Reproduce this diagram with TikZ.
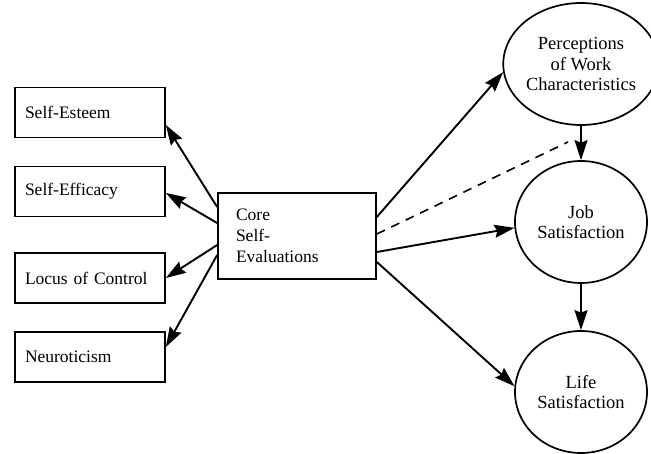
\documentclass[tikz,border=0pt]{standalone}
\usepackage{fontspec}
\setmainfont{Liberation Serif}
\usetikzlibrary{arrows.meta,shapes.geometric,calc}
\begin{document}
\begin{tikzpicture}[x=1pt,y=-1pt,
  every node/.style={font=\fontsize{17.5}{21}\selectfont},
  leftbox/.style={draw,line width=1.7pt,minimum width=150pt,minimum height=50pt,
    text width=130pt,align=left,inner xsep=10pt,inner ysep=0pt},
  corebox/.style={draw,line width=1.7pt,minimum width=158pt,minimum height=86pt,
    text width=122pt,align=left,inner xsep=18pt,inner ysep=0pt},
  outcome/.style={draw,ellipse,line width=1.7pt,minimum width=132pt,minimum height=122pt,
    inner sep=0pt,align=center,font=\fontsize{18.5}{20.5}\selectfont},
  link/.style={line width=1.9pt,-{Stealth[length=20pt,width=13pt,inset=2.5pt]}},
  modlink/.style={line width=1.6pt,dash pattern=on 9pt off 7pt}
]
\useasboundingbox (0,0) rectangle (651,454);
\node[leftbox] (se) at (90,112.5) {Self-Esteem};
\node[leftbox] (sf) at (90,191.5) {Self-Efficacy};
\node[leftbox] (lc) at (90,278) {Locus of Control};
\node[leftbox] (ne) at (90,357) {Neuroticism};
\node[corebox] (core) at (297,236) {Core\\Self-\\Evaluations};
\node[outcome] (perc) at (581,64) {Perceptions\\of Work\\Characteristics};
\node[outcome] (job) at (581,222) {Job\\Satisfaction};
\node[outcome] (life) at (581,392) {Life\\Satisfaction};
\coordinate (mod) at (568,142);

\draw[link] (core.west |- 0,207) -- (se.east |- 0,125);
\draw[link] (core.west |- 0,223) -- (sf.east |- 0,193);
\draw[link] (core.west |- 0,245) -- (lc.east |- 0,278);
\draw[link] (core.west |- 0,255) -- (ne.east |- 0,347);

\draw[link] (core.east |- 0,217) -- (perc.186);
\draw[link] (core.east |- 0,252) -- (job.185);
\draw[link] (core.east |- 0,262) -- (life.175);
\draw[modlink] (core.east |- 0,234) -- (mod);
\draw[link] (perc.south) -- (job.north);
\draw[link] (job.south) -- (life.north);
\end{tikzpicture}
\end{document}
